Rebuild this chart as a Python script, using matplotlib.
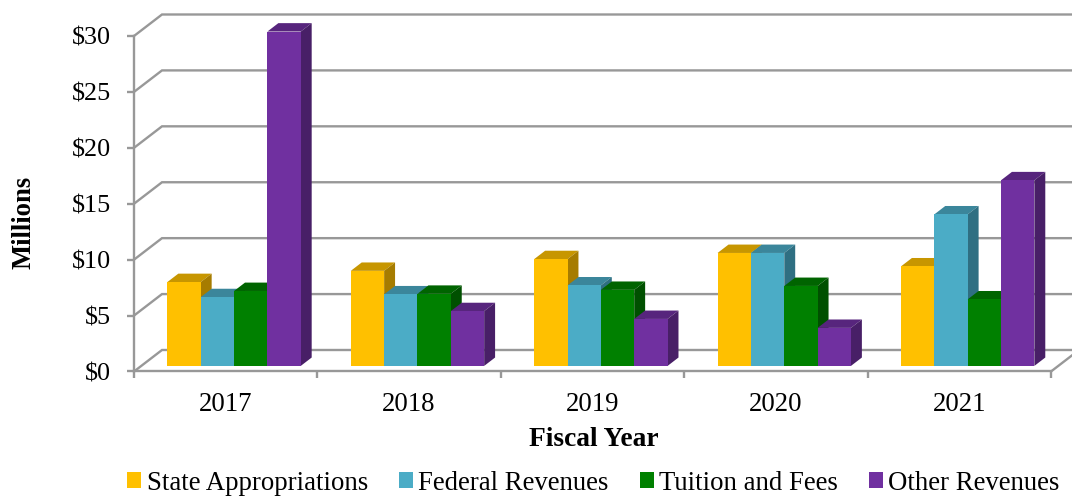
import matplotlib
matplotlib.use("Agg")
import matplotlib.pyplot as plt
from matplotlib.ticker import FuncFormatter

plt.rcParams["font.family"] = ["Liberation Serif", "DejaVu Serif"]

years = ["2017", "2018", "2019", "2020", "2021"]
state = [7.5, 8.5, 9.55, 10.1, 8.9]
federal = [6.15, 6.4, 7.2, 10.1, 13.55]
tuition = [6.7, 6.45, 6.8, 7.15, 5.95]
other = [29.9, 4.9, 4.2, 3.4, 16.6]

series = [
    ("State Appropriations", state, "#FFC000", "#C79600", "#A67C00"),
    ("Federal Revenues", federal, "#4BACC6", "#3B869B", "#2F6F82"),
    ("Tuition and Fees", tuition, "#008000", "#006400", "#005000"),
    ("Other Revenues", other, "#7030A0", "#57257D", "#481F67"),
]

W, H = 1072, 498
fig = plt.figure(figsize=(W / 100, H / 100), dpi=100)
ax = fig.add_axes([134 / W, 1 - 371.5 / H, (1051 - 134) / W, (371.5 - 36) / H])
ax.set_xlim(0, 5)
ax.set_ylim(0, 30)

GREY = "#989898"
LW = 1.7

# Oblique depth of the chart box, in data units per unit of depth
DEPTH_X = 28 / 183.4
DEPTH_Y = 21.5 / 11.18
BAR_NEAR = 0.26
BAR_FAR = 0.65
BAR_W = 0.1818
GROUP_PAD = (1 - 4 * BAR_W) / 2 + 0.006


def project(x, y, d):
    return x + d * DEPTH_X, y + d * DEPTH_Y


# Side wall and back wall gridlines
for level in range(0, 35, 5):
    x0, y0 = project(0, level, 0)
    x1, y1 = project(0, level, 1)
    x2, y2 = project(5.2, level, 1)
    ax.plot([x0, x1, x2], [y0, y1, y2], color=GREY, lw=LW, clip_on=False,
            zorder=1, solid_joinstyle="miter")

# Floor front edge and its right-hand return
xr0, yr0 = project(5, 0, 0)
xr1, yr1 = project(5, 0, 1)
ax.plot([xr0, xr1], [yr0, yr1], color=GREY, lw=LW, clip_on=False, zorder=1)

# Bars: faces are layered from left to right so each front hides the previous side
z = 3
for g in range(len(years)):
    for s, (name, values, front, top, side) in enumerate(series):
        v = values[g]
        xl = g + GROUP_PAD + s * BAR_W
        xr = xl + BAR_W
        corners_top = [project(xl, v, BAR_NEAR), project(xr, v, BAR_NEAR),
                       project(xr, v, BAR_FAR), project(xl, v, BAR_FAR)]
        corners_side = [project(xr, 0, BAR_NEAR), project(xr, v, BAR_NEAR),
                        project(xr, v, BAR_FAR), project(xr, 0, BAR_FAR)]
        ax.fill(*zip(*corners_top), color=top, lw=0, zorder=z, clip_on=False)
        ax.fill(*zip(*corners_side), color=side, lw=0, zorder=z, clip_on=False)
        x0, y0 = project(xl, 0, BAR_NEAR)
        ax.bar(x0, v, BAR_W, bottom=y0, align="edge", color=front, lw=0, zorder=z + 1,
               clip_on=False, label=name if g == 0 else "_nolegend_")
        z += 2

for spine in ("top", "right"):
    ax.spines[spine].set_visible(False)
for spine in ("left", "bottom"):
    ax.spines[spine].set_color(GREY)
    ax.spines[spine].set_linewidth(LW)
    ax.spines[spine].set_zorder(2)

ax.set_yticks(range(0, 35, 5))
ax.yaxis.set_major_formatter(FuncFormatter(lambda v, _: f"${v:.0f}"))
ax.set_xticks(range(6))
ax.set_xticklabels([])
ax.set_xticks([i + 0.5 for i in range(5)], minor=True)
ax.set_xticklabels(years, minor=True)
ax.tick_params(axis="x", which="minor", length=0, labelsize=19.3, pad=14.6, colors="black")
ax.tick_params(axis="x", which="major", length=5, width=LW, color=GREY)
ax.tick_params(axis="y", length=5, width=LW, color=GREY, labelsize=18.8, labelcolor="black", pad=11.5)
for tick_label in ax.get_yticklabels():
    tick_label.set_verticalalignment("center_baseline")

fig.text(593.5 / W, 1 - 439 / H, "Fiscal Year", ha="center", va="center",
         fontsize=19.8, fontweight="bold")
fig.text(24 / W, 1 - 222 / H, "Millions", ha="center", va="center", rotation=90,
         fontsize=19.2, fontweight="bold")

fig.legend(loc="center", bbox_to_anchor=(593.5 / W, 1 - 483 / H), ncols=4, frameon=False,
           fontsize=19.3, handlelength=0.52, handleheight=0.52, handletextpad=0.2,
           columnspacing=1.16, borderpad=0, labelspacing=0)

fig.savefig("out.png", dpi=100)
